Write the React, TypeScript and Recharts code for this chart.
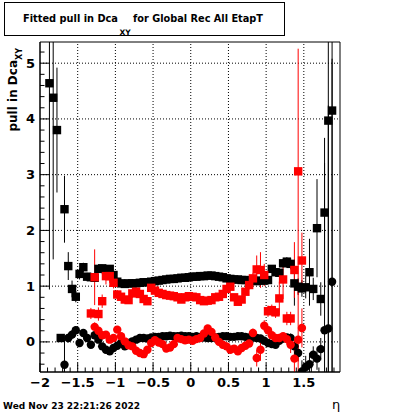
import React from "react";
import {
  ComposedChart, Scatter, XAxis, YAxis, ErrorBar, ReferenceLine, ReferenceArea,
} from "recharts";

// eta bin centres
const ETA = [
  -1.875, -1.825, -1.775, -1.725, -1.675, -1.625, -1.575, -1.525, -1.475, -1.425,
  -1.375, -1.325, -1.275, -1.225, -1.175, -1.125, -1.075, -1.025, -0.975, -0.925,
  -0.875, -0.825, -0.775, -0.725, -0.675, -0.625, -0.575, -0.525, -0.475, -0.425,
  -0.375, -0.325, -0.275, -0.225, -0.175, -0.125, -0.075, -0.025, 0.025, 0.075,
  0.125, 0.175, 0.225, 0.275, 0.325, 0.375, 0.425, 0.475, 0.525, 0.575,
  0.625, 0.675, 0.725, 0.775, 0.825, 0.875, 0.925, 0.975, 1.025, 1.075,
  1.125, 1.175, 1.225, 1.275, 1.325, 1.375, 1.425, 1.475, 1.525, 1.575,
  1.625, 1.675, 1.725, 1.775, 1.825, 1.875,
];

// black squares: pull width
const SIGMA_BLACK = [
  4.64, 4.38, 3.80, 0.07, 2.38, 1.36, 0.95, 0.81, 1.22, 1.34,
  1.17, 1.16, 1.15, 1.31, 1.32, 1.29, 1.31, 1.20, 1.08, 1.05,
  1.04, 1.05, 1.05, 1.05, 1.06, 1.07, 1.07, 1.08, 1.09, 1.10,
  1.11, 1.12, 1.13, 1.13, 1.14, 1.15, 1.15, 1.16, 1.17, 1.17,
  1.18, 1.18, 1.19, 1.19, 1.18, 1.17, 1.16, 1.14, 1.13, 1.12,
  1.12, 1.11, 1.11, 1.10, 1.10, 1.09, 1.10, 1.10, 1.11, 1.31,
  1.25, 1.24, 1.41, 1.44, 1.40, 1.05, 0.99, 0.96, 0.98, 1.25,
  0.95, 2.04, 0.77, 2.32, 3.97, 4.15,
];
const SIGMA_BLACK_ERR = [
  3.70, 2.90, 1.12, 0.05, 0.60, 0.25, 0.15, 0.10, 0.10, 0.08,
  0.07, 0.06, 0.06, 0.05, 0.05, 0.05, 0.04, 0.04, 0.03, 0.03,
  0.02, 0.02, 0.02, 0.02, 0.02, 0.02, 0.02, 0.02, 0.02, 0.02,
  0.02, 0.02, 0.02, 0.02, 0.02, 0.02, 0.02, 0.02, 0.02, 0.02,
  0.02, 0.02, 0.02, 0.02, 0.02, 0.02, 0.02, 0.02, 0.02, 0.02,
  0.02, 0.02, 0.02, 0.02, 0.02, 0.02, 0.03, 0.03, 0.04, 0.05,
  0.06, 0.06, 0.08, 0.08, 0.10, 0.40, 0.15, 0.15, 0.20, 0.60,
  0.20, 0.88, 0.30, 1.34, 5.00, 5.00,
];

// black circles: pull mean
const MEAN_BLACK = [
  null, null, null, null, -0.41, 0.07, 0.13, 0.21, -0.02, 0.16,
  0.07, -0.05, 0.12, 0.04, -0.08, -0.14, -0.17, -0.11, -0.07, -0.02,
  -0.08, -0.02, 0.01, 0.04, 0.07, 0.07, 0.06, 0.08, 0.09, 0.09,
  0.10, 0.10, 0.11, 0.10, 0.10, 0.11, 0.10, 0.10, 0.09, 0.10,
  0.09, 0.08, 0.07, 0.07, 0.08, 0.09, 0.10, 0.10, 0.09, 0.09,
  0.10, 0.10, 0.09, 0.08, 0.08, 0.07, 0.06, 0.02, -0.02, -0.04,
  -0.05, 0.02, 0.06, 0.08, 0.07, -0.08, -0.20, -0.53, -0.45, -0.40,
  -0.23, -0.30, -0.13, 0.21, 0.24, 1.08,
];
const MEAN_BLACK_ERR = [
  null, null, null, null, 0.45, 0.08, 0.08, 0.07, 0.07, 0.06,
  0.06, 0.05, 0.05, 0.05, 0.04, 0.04, 0.04, 0.03, 0.03, 0.03,
  0.02, 0.02, 0.02, 0.02, 0.02, 0.02, 0.02, 0.02, 0.02, 0.02,
  0.02, 0.02, 0.02, 0.02, 0.02, 0.02, 0.02, 0.02, 0.02, 0.02,
  0.02, 0.02, 0.02, 0.02, 0.02, 0.02, 0.02, 0.02, 0.02, 0.02,
  0.02, 0.02, 0.02, 0.02, 0.02, 0.02, 0.03, 0.03, 0.04, 0.04,
  0.05, 0.05, 0.06, 0.06, 0.08, 0.10, 0.15, 0.20, 0.20, 0.20,
  0.15, 0.20, 0.20, 3.00, 4.00, 4.00,
];

// red squares: pull width
const SIGMA_RED = [
  null, null, null, null, null, null, null, null, null, null,
  null, 0.51, 1.16, 0.50, 0.73, 1.18, 1.18, 1.06, 0.85, 0.81,
  0.76, 0.75, 0.87, 0.90, 0.86, 0.77, 0.73, 0.97, 0.92, 0.88,
  0.86, 0.84, 0.83, 0.82, 0.80, 0.76, 0.80, 0.82, 0.81, 0.80,
  0.75, 0.73, 0.74, 0.75, 0.80, 0.81, 0.86, 0.95, 0.99, 0.80,
  0.72, 0.76, 0.90, 1.02, 1.14, 1.30, 1.29, 1.20, 0.55, 0.57,
  0.53, 0.78, 1.12, 0.42, 0.42, 1.29, 3.06, 1.46, null, null,
  null, null, null, null, null, null,
];
const SIGMA_RED_ERR = [
  null, null, null, null, null, null, null, null, null, null,
  null, 0.10, 0.50, 0.12, 0.12, 0.15, 0.12, 0.10, 0.08, 0.06,
  0.05, 0.05, 0.08, 0.08, 0.05, 0.04, 0.04, 0.08, 0.05, 0.04,
  0.03, 0.03, 0.03, 0.03, 0.03, 0.03, 0.03, 0.03, 0.03, 0.03,
  0.03, 0.03, 0.03, 0.03, 0.04, 0.04, 0.05, 0.08, 0.08, 0.05,
  0.04, 0.05, 0.06, 0.08, 0.10, 0.25, 0.32, 0.20, 0.10, 0.10,
  0.10, 0.30, 0.35, 0.12, 0.12, 0.50, 2.20, 0.50, null, null,
  null, null, null, null, null, null,
];

// red circles: pull mean
const MEAN_RED = [
  null, null, null, null, null, null, null, null, null, null,
  null, null, 0.27, 0.20, 0.12, 0.13, 0.04, 0.07, 0.22, 0.10,
  0.01, -0.06, -0.08, -0.16, -0.20, -0.22, -0.14, -0.02, 0.03, -0.01,
  -0.04, -0.12, -0.10, -0.04, 0.07, 0.05, 0.03, 0.04, 0.02, 0.05,
  0.07, 0.15, 0.24, 0.18, 0.08, 0.00, -0.05, -0.08, -0.14, -0.12,
  -0.17, -0.11, -0.07, -0.03, 0.16, -0.29, -0.14, 0.29, 0.21, 0.12,
  0.07, 0.07, 0.10, 0.05, -0.05, -0.30, 0.04, 0.25, null, null,
  null, null, null, null, null, null,
];
const MEAN_RED_ERR = [
  null, null, null, null, null, null, null, null, null, null,
  null, null, 0.08, 0.06, 0.05, 0.05, 0.05, 0.04, 0.04, 0.03,
  0.02, 0.02, 0.02, 0.02, 0.02, 0.02, 0.02, 0.02, 0.02, 0.02,
  0.02, 0.02, 0.02, 0.02, 0.02, 0.02, 0.02, 0.02, 0.02, 0.02,
  0.02, 0.02, 0.02, 0.02, 0.02, 0.02, 0.02, 0.02, 0.02, 0.02,
  0.02, 0.02, 0.02, 0.03, 0.08, 0.15, 0.20, 0.10, 0.05, 0.05,
  0.05, 0.05, 0.05, 0.10, 0.15, 0.35, 0.85, 0.35, null, null,
  null, null, null, null, null, null,
];

const X_TICKS = [
  -2, -1.9, -1.8, -1.7, -1.6, -1.5, -1.4, -1.3, -1.2, -1.1,
  -1, -0.9, -0.8, -0.7, -0.6, -0.5, -0.4, -0.3, -0.2, -0.1,
  0, 0.1, 0.2, 0.3, 0.4, 0.5, 0.6, 0.7, 0.8, 0.9,
  1, 1.1, 1.2, 1.3, 1.4, 1.5, 1.6, 1.7, 1.8, 1.9,
];
const Y_TICKS = [
  -0.4, -0.2, 0, 0.2, 0.4, 0.6, 0.8, 1, 1.2, 1.4, 1.6, 1.8, 2, 2.2, 2.4, 2.6, 2.8,
  3, 3.2, 3.4, 3.6, 3.8, 4, 4.2, 4.4, 4.6, 4.8, 5, 5.2,
];
const X_GRID = [-1.5, -1, -0.5, 0, 0.5, 1, 1.5];
const Y_GRID = [0, 1, 2, 3, 4, 5];
const X_DOMAIN = [-2, 1.98];
const Y_DOMAIN = [-0.54, 5.38];

const FONT = "DejaVu Sans";
const RED = "#ff0000";

// chart frame (plot area)
const W = 400, H = 414;
const M = { top: 42, right: 60, bottom: 0, left: 0 };
const Y_AXIS_W = 40, X_AXIS_H = 42;
const PLOT = { x: M.left + Y_AXIS_W, y: M.top, w: W - M.left - M.right - Y_AXIS_W, h: H - M.top - M.bottom - X_AXIS_H };

const build = (vals: (number | null)[], errs: (number | null)[]) =>
  ETA.map((x, i) => ({ x, y: vals[i], err: errs[i] })).filter((d) => d.y != null);

const isMajor = (v: number, step: number) => Math.abs(v / step - Math.round(v / step)) < 1e-6;
const fmt = (v: number) => (v < 0 ? "\u2212" + Math.abs(v) : String(v));

const XTick = (props: any) => {
  const { x, y, payload } = props;
  const major = isMajor(payload.value, 0.5);
  return (
    <g>
      <line x1={x} x2={x} y1={y} y2={y - (major ? 9 : 4.5)} stroke="#000" />
      {major && (
        <text x={x} y={y + 14.5} textAnchor="middle" fontFamily={FONT} fontWeight="bold" fontSize={13} fill="#000">
          {fmt(payload.value)}
        </text>
      )}
    </g>
  );
};

const YTick = (props: any) => {
  const { x, y, payload } = props;
  const major = isMajor(payload.value, 1);
  return (
    <g>
      <line x1={x} x2={x + (major ? 9 : 4.5)} y1={y} y2={y} stroke="#000" />
      {major && (
        <text x={x - 5} y={y + 4.5} textAnchor="end" fontFamily={FONT} fontWeight="bold" fontSize={13} fill="#000">
          {fmt(payload.value)}
        </text>
      )}
    </g>
  );
};

const square = (color: string) => (p: any) => (
  <rect x={p.cx - 4.2} y={p.cy - 4.2} width={8.4} height={8.4} fill={color} />
);
const circle = (color: string) => (p: any) => <circle cx={p.cx} cy={p.cy} r={4.2} fill={color} />;

export default function App() {
  const series = [
    { name: "sigmaBlack", data: build(SIGMA_BLACK, SIGMA_BLACK_ERR), color: "#000", shape: square("#000") },
    { name: "meanBlack", data: build(MEAN_BLACK, MEAN_BLACK_ERR), color: "#000", shape: circle("#000") },
    { name: "sigmaRed", data: build(SIGMA_RED, SIGMA_RED_ERR), color: RED, shape: square(RED) },
    { name: "meanRed", data: build(MEAN_RED, MEAN_RED_ERR), color: RED, shape: circle(RED) },
  ];

  const bold = { fontFamily: FONT, fontWeight: "bold" as const, fill: "#000" };

  return (
    <div style={{ position: "absolute", left: 0, top: 0, width: W, height: H, background: "#fff" }}>
      <style>{`.recharts-errorBars, .recharts-errorBar { clip-path: url(#plotClip); }`}</style>
      <svg width={0} height={0} style={{ position: "absolute" }}>
        <defs>
          <clipPath id="plotClip" clipPathUnits="userSpaceOnUse">
            <rect x={PLOT.x} y={PLOT.y} width={PLOT.w} height={PLOT.h} />
          </clipPath>
        </defs>
      </svg>
      <ComposedChart width={W} height={H} margin={M}>
        <XAxis
          type="number" dataKey="x" domain={X_DOMAIN} allowDataOverflow ticks={X_TICKS} interval={0}
          height={X_AXIS_H} tickSize={0} tickMargin={0} axisLine={{ stroke: "#000" }} tick={(p: any) => <XTick {...p} />}
        />
        <YAxis
          type="number" dataKey="y" domain={Y_DOMAIN} allowDataOverflow ticks={Y_TICKS} interval={0}
          width={Y_AXIS_W} tickSize={0} tickMargin={0} axisLine={{ stroke: "#000" }} tick={(p: any) => <YTick {...p} />}
        />
        {X_GRID.map((v) => (
          <ReferenceLine key={"gx" + v} x={v} stroke="#000" strokeDasharray="1 2" />
        ))}
        {Y_GRID.map((v) => (
          <ReferenceLine key={"gy" + v} y={v} stroke="#000" strokeDasharray="1 2" />
        ))}
        <ReferenceArea
          x1={X_DOMAIN[0]} x2={X_DOMAIN[1]} y1={Y_DOMAIN[0]} y2={Y_DOMAIN[1]}
          fill="none" fillOpacity={0} stroke="#000" strokeOpacity={1} ifOverflow="visible"
        />
        {series.map((s) => (
          <Scatter key={s.name} name={s.name} data={s.data} dataKey="y" shape={s.shape} isAnimationActive={false}>
            <ErrorBar dataKey="err" direction="y" width={0} stroke={s.color} strokeWidth={1} />
          </Scatter>
        ))}
      </ComposedChart>
      <svg width={W} height={H} style={{ position: "absolute", left: 0, top: 0, pointerEvents: "none" }}>
        <rect x={4.5} y={2.5} width={280} height={33} fill="#fff" stroke="#000" />
        <text x={23} y={21.5} fontSize={10.5} textLength={95} lengthAdjust="spacingAndGlyphs" {...bold}>
          Fitted pull in Dca
        </text>
        <text x={119.5} y={34.5} fontSize={7.5} {...bold}>XY</text>
        <text x={133} y={21.5} fontSize={10.5} textLength={130} lengthAdjust="spacingAndGlyphs" {...bold}>
          for Global Rec All EtapT
        </text>
        <text transform="translate(17,48) rotate(-90)" textAnchor="end" fontSize={12} {...bold}>
          pull in Dca
          <tspan fontSize={8} dy={5}>XY</tspan>
        </text>
        <text x={3} y={408.5} fontSize={9} textLength={137} lengthAdjust="spacingAndGlyphs" {...bold}>
          Wed Nov 23 22:21:26 2022
        </text>
        <text x={332} y={409} fontFamily={FONT} fontSize={13} fill="#000">η</text>
      </svg>
    </div>
  );
}
